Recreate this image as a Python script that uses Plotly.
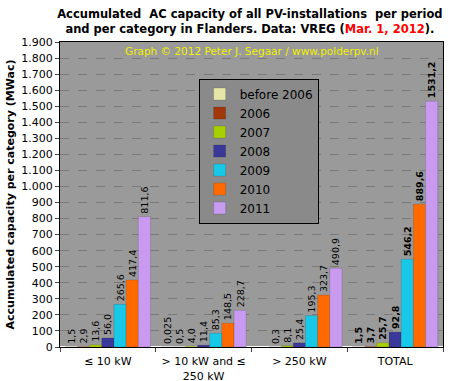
import plotly.graph_objects as go

categories = ["≤ 10 kW", "> 10 kW and ≤<br>250 kW", "> 250 kW", "TOTAL"]
series_names = ["before 2006", "2006", "2007", "2008", "2009", "2010", "2011"]
before_2006 = [1.5, 0.025, None, 1.5]
y2006 = [2.9, 0.5, 0.3, 3.7]
y2007 = [13.6, 4.0, 8.1, 25.7]
y2008 = [56.0, 11.4, 25.4, 92.8]
y2009 = [265.6, 85.3, 195.3, 546.2]
y2010 = [417.4, 148.5, 323.7, 889.6]
y2011 = [811.6, 228.7, 490.9, 1531.2]
series_values = [before_2006, y2006, y2007, y2008, y2009, y2010, y2011]
colors = ["#e6e6a8", "#a0380c", "#a8d000", "#3a3898", "#18c8e8", "#ff6a00", "#c89af0"]
y_ticks = list(range(0, 2000, 100))

def fmt(v):
    if v is None:
        return ""
    s = "{:.3f}".format(v).rstrip("0") if v < 0.1 else "{:.1f}".format(v)
    return s.replace(".", ",")

def tick_label(v):
    return "{:,}".format(v).replace(",", ".")

fig = go.Figure()
for name, vals, col in zip(series_names, series_values, colors):
    texts = []
    for i, v in enumerate(vals):
        t = fmt(v)
        if i == 3 and t:
            t = "<b>" + t + "</b>"
        texts.append(t)
    fig.add_trace(go.Bar(
        x=categories, y=vals, name=name, text=texts,
        textposition="outside", textangle=-90, cliponaxis=False, constraintext="none",
        textfont=dict(family="DejaVu Sans", size=9.5, color="black"),
        marker=dict(color=col, line=dict(color="rgba(0,0,0,0.25)", width=0.5)),
    ))

fig.update_layout(
    width=456, height=381,
    margin=dict(l=60, r=13, t=42, b=34),
    paper_bgcolor="white", plot_bgcolor="#9a9a9a",
    barmode="group", bargap=0.11, bargroupgap=0,
    font=dict(family="DejaVu Sans", size=11, color="black"),
    title=dict(
        text="Accumulated  AC capacity of all PV-installations  per period<br>and per category in Flanders. Data: VREG (<span style='color:#ff0000'>Mar. 1, 2012</span>).",
        x=0.548, xanchor="center", y=0.953, yanchor="top",
        font=dict(family="DejaVu Sans", size=11.5, color="black", weight="bold"),
    ),
    legend=dict(
        x=0.362, xanchor="left", y=0.88, yanchor="top",
        bgcolor="#8a8a8a", bordercolor="black", borderwidth=1,
        font=dict(family="DejaVu Sans", size=12, color="black"),
        itemwidth=30, tracegroupgap=0,
    ),
    showlegend=True,
    annotations=[dict(
        text="Graph © 2012 Peter J. Segaar / www.polderpv.nl",
        x=0.5, xref="paper", y=0.997, yref="paper", yanchor="top", showarrow=False,
        font=dict(family="DejaVu Sans", size=10.5, color="#f0f000"),
    )],
)
fig.update_xaxes(
    type="category", tickson="boundaries", ticks="outside", ticklen=4,
    showline=True, linecolor="black", mirror=True, linewidth=1, automargin=False,
    ticklabelstandoff=4,
    tickfont=dict(family="DejaVu Sans", size=11),
)
fig.update_yaxes(
    range=[0, 1900], tickvals=y_ticks, ticktext=[tick_label(v) for v in y_ticks],
    ticks="outside", ticklen=4, showgrid=True, gridcolor="#7a7a7a", griddash="dash",
    showline=True, linecolor="black", mirror=True, linewidth=1, automargin=False,
    tickfont=dict(family="DejaVu Sans", size=11),
    title=dict(text="<b>Accumulated capacity per category (MWac)</b>", standoff=4,
               font=dict(family="DejaVu Sans", size=11)),
)
fig.write_html("out.html", config={"displayModeBar": False},
               post_script="document.body.style.margin='0';")
